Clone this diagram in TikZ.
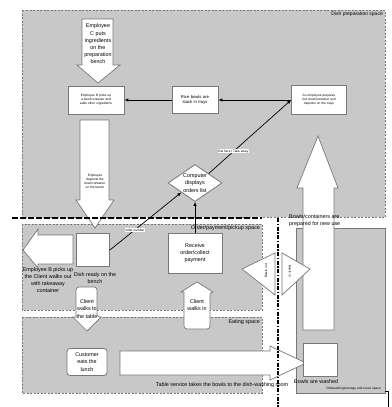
\documentclass[tikz,border=0pt]{standalone}
\usepackage{fontspec}
\setmainfont{Liberation Sans}
\usetikzlibrary{shapes.geometric,arrows.meta}

\definecolor{spacegray}{RGB}{200,200,200}
\definecolor{edgegray}{RGB}{120,120,120}

\newcommand{\tinyfont}{\fontsize{3.2}{4}\selectfont}
\newcommand{\labelfont}{\fontsize{5.4}{7.2}\selectfont}

\tikzset{
  space/.style={fill=spacegray, draw=edgegray, line width=0.7pt, dash pattern=on 2pt off 1.5pt},
  box/.style={draw=edgegray, fill=white, line width=0.8pt, align=center, inner sep=1pt, font=\tinyfont},
  blockarrow/.style={draw=edgegray, fill=white, line width=0.7pt},
  flow/.style={-{Latex[length=4pt,width=3.5pt]}, line width=0.7pt},
  divider/.style={line width=1.6pt, dash pattern=on 6pt off 2pt},
  txt/.style={font=\labelfont, align=center, inner sep=0pt},
  flowlabel/.style={font=\tinyfont, fill=white, inner sep=0.5pt}
}

\begin{document}
\begin{tikzpicture}[x=1pt, y=-1pt]
\useasboundingbox (0,0) rectangle (391,407);

% ================= SPACES =================
\draw[space] (22,10) rectangle (385,217);
\draw[space] (22,224) rectangle (262,310);
\draw[space] (22,317) rectangle (262,393);
\draw[fill=spacegray, draw=edgegray, line width=0.7pt] (296,228) rectangle (385,393);

\node[txt, anchor=north east, font=\fontsize{5}{6}\selectfont] (prepSpace) at (383,12) {Dish preparation space};
\node[txt, anchor=north east] (orderSpace) at (260,225) {Order/payment/pickup space};
\node[txt, anchor=north east] (eatSpace) at (260,319) {Eating space};

% ================= BLOCK ARROWS =================
% ingredients coming in
\draw[blockarrow] (82,19) -- (113,19) -- (113,65) -- (120,65) -- (98,83) -- (77,65) -- (82,65) -- cycle;
\node[txt] (putsText) at (98,44) {Employee\\C puts\\ingredients\\on the\\preparation\\bench};

% bowl down to the bench
\draw[blockarrow] (80,120) -- (109,120) -- (109,200) -- (114,200) -- (95,228) -- (76,200) -- (80,200) -- cycle;
\node[txt, font=\tinyfont] (depositText) at (95,181) {Employee\\deposits the\\bowl/container\\on the bench};

% pickup / takeaway out
\draw[blockarrow] (73,235) -- (38,235) -- (38,229) -- (23,250) -- (38,268) -- (38,264) -- (73,264) -- cycle;
\node[txt] (pickupText) at (48,280) {Employee B picks up\\the Client walks out\\with takeaway\\container};

% client walks to the table
\draw[blockarrow, rounded corners=3pt] (76,317) -- (76,287) -- (97,287) -- (97,317) [sharp corners] -- (101,317) -- (87,331) -- (73,317) -- cycle;
\node[txt] (tableText) at (87,309) {Client\\walks to\\the table};

% client walks in
\draw[blockarrow, rounded corners=3pt] (184,292) -- (184,329) -- (210,329) -- (210,292) [sharp corners] -- (213,292) -- (197,282) -- (181,292) -- cycle;
\node[txt] (walkInText) at (197,305) {Client\\walks in};

% bowls to the dish-washing room
\draw[blockarrow] (120,351) -- (270,351) -- (270,346) -- (306,363) -- (270,380) -- (270,375) -- (120,375) -- cycle;
\node[txt] (serviceText) at (222,385) {Table service takes the bowls to the dish-washing room};

% bowls back for new use
\draw[blockarrow] (303,330) -- (303,188) -- (297,188) -- (318,136) -- (338,188) -- (334,188) -- (334,330) -- cycle;
\node[txt, anchor=north west, align=left] (reuseText) at (289,214) {Bowls/containers are\\prepared for new use};

% two-way exchange at the wall
\draw[blockarrow] (275,253) -- (242,269) -- (275,295) -- cycle;
\draw[blockarrow] (282,253) -- (310,269) -- (282,295) -- cycle;
\node[txt, font=\tinyfont, rotate=90] (outText) at (266,271) {Bowls out};
\node[txt, font=\tinyfont, rotate=-90] (inText) at (290,271) {Bowls in};

% ================= BOXES =================
\node[box, minimum width=56pt, minimum height=28pt, text width=50pt] (empB) at (96,100) {Employee B picks up a bowl/container and adds other ingredients};
\node[box, minimum width=46pt, minimum height=27pt, text width=42pt, font=\fontsize{4.2}{5}\selectfont] (rice) at (195,100) {Rice bowls are stack in trays};
\node[box, minimum width=55pt, minimum height=29pt, text width=50pt] (prep) at (319,100) {An employee prepares rice bowl/container and deposits on the trays};
\node[box, diamond, aspect=1.46, minimum width=54pt, minimum height=37pt, inner sep=0pt, font=\labelfont] (computer) at (195,183) {Computer\\displays\\orders list};
\node[box, minimum width=33pt, minimum height=33pt] (ready) at (93,250) {};
\node[txt] (readyText) at (95,278) {Dish ready on the\\bench};
\node[box, minimum width=54pt, minimum height=40pt, font=\labelfont] (receive) at (195,253) {Receive\\order/collect\\payment};
\node[box, rounded corners=3pt, minimum width=40pt, minimum height=27pt, font=\labelfont] (eats) at (87,362) {Customer\\eats the\\lunch};
\node[box, minimum width=34pt, minimum height=33pt] (washed) at (320,360) {};
\node[txt, anchor=west] (washedText) at (294,382) {Bowls are washed};
\node[txt, anchor=east, font=\tinyfont] (washSpace) at (381,389) {Dishwashing/storage and reuse space};

% ================= CONNECTORS =================
\draw[flow] (prep.west) -- (rice.east);
\draw[flow] (rice.west) -- (empB.east);
\draw[flow] (computer.north east) -- node[flowlabel, pos=0.3] {Eat here / Take away} (prep.west);
\draw[flow] (receive.north) -- (computer.south);
\draw[flow] (ready.east) -- node[flowlabel, pos=0.35] {order number} (computer.south west);

% ================= DIVIDERS =================
\draw[divider] (12,218) -- (262,218);
\draw[line width=1.6pt, dash pattern=on 4pt off 1.5pt on 1.5pt off 1.5pt] (278,218) -- (278,407);
\draw[line width=0.8pt] (385,391) -- (388,391) -- (388,407);

\end{tikzpicture}
\end{document}
